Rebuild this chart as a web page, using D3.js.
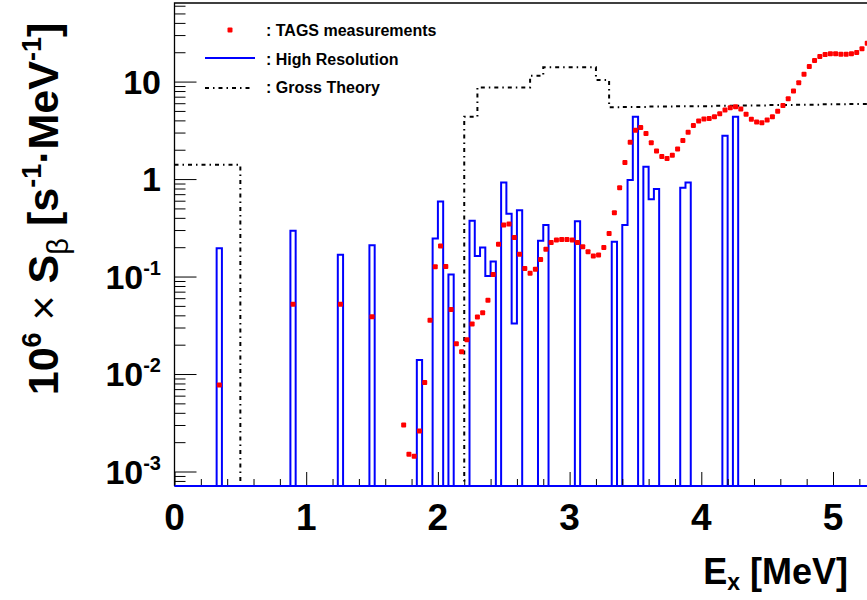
<!DOCTYPE html>
<html>
<head>
<meta charset="utf-8">
<script src="https://cdn.jsdelivr.net/npm/d3@7/dist/d3.min.js"></script>
<style>
  body { margin: 0; background: #fff; }
  svg { display: block; }
  text { font-family: "Liberation Sans", Arial, sans-serif; font-weight: bold; fill: #000; }
</style>
</head>
<body>
<svg></svg>
<script>
// ---- TAGS measurements (bin centres, MeV) ----
const tagsE = [0.34, 0.90, 1.26, 1.50,
  1.74, 1.78, 1.82, 1.86, 1.90, 1.94, 1.98, 2.02, 2.06, 2.10, 2.14, 2.18, 2.22, 2.26, 2.30, 2.34,
  2.38, 2.42, 2.46, 2.50, 2.54, 2.58, 2.62, 2.66, 2.70, 2.74, 2.78, 2.82, 2.86, 2.90, 2.94, 2.98,
  3.02, 3.06, 3.10, 3.14, 3.18, 3.22, 3.26, 3.30, 3.34, 3.38, 3.42, 3.46, 3.50, 3.54, 3.58, 3.62,
  3.66, 3.70, 3.74, 3.78, 3.82, 3.86, 3.90, 3.94, 3.98, 4.02, 4.06, 4.10, 4.14, 4.18, 4.22, 4.26,
  4.30, 4.34, 4.38, 4.42, 4.46, 4.50, 4.54, 4.58, 4.62, 4.66, 4.70, 4.74, 4.78, 4.82, 4.86, 4.90,
  4.94, 4.98, 5.02, 5.06, 5.10, 5.14, 5.18, 5.22, 5.26];
const tagsVal = [0.0077, 0.052, 0.052, 0.0387,
  0.0030, 0.0015, 0.00143, 0.0026, 0.0082, 0.0356, 0.126, 0.206, 0.127, 0.046, 0.0205, 0.0169, 0.0225, 0.0326, 0.0384, 0.0426,
  0.057, 0.105, 0.214, 0.337, 0.345, 0.252, 0.169, 0.121, 0.108, 0.119, 0.150, 0.191, 0.224, 0.237, 0.240, 0.240,
  0.237, 0.224, 0.202, 0.180, 0.162, 0.166, 0.199, 0.277, 0.45, 0.815, 1.48, 2.38, 3.16, 3.39, 2.94, 2.36,
  1.94, 1.70, 1.63, 1.75, 2.03, 2.49, 3.03, 3.55, 3.94, 4.12, 4.19, 4.35, 4.67, 5.10, 5.39, 5.52,
  5.23, 4.61, 4.10, 3.84, 3.78, 4.03, 4.35, 4.95, 5.70, 6.66, 8.0, 9.72, 11.9, 14.3, 16.5, 18.1,
  19.0, 19.3, 19.3, 19.1, 19.1, 19.3, 19.9, 21.7, 24.8];

// ---- High resolution histogram: low edge of each filled 0.04 MeV bin ----
const hrWidth = 0.04;
const hrLow = [0.32, 0.88, 1.24, 1.48, 1.84, 1.96, 2.00, 2.08, 2.24, 2.28, 2.32, 2.36, 2.40,
  2.48, 2.52, 2.56, 2.60, 2.76, 2.80, 3.04, 3.32, 3.40, 3.44, 3.48, 3.56, 3.60, 3.64,
  3.84, 3.88, 4.16, 4.24];
const hrVal = [0.195, 0.295, 0.167, 0.21, 0.0139, 0.246, 0.59, 0.105, 0.374, 0.162, 0.199, 0.101, 0.143,
  0.92, 0.44, 0.033, 0.48, 0.233, 0.337, 0.37, 0.228, 0.337, 0.98, 4.35, 1.34, 0.62, 0.79,
  0.815, 0.92, 2.78, 4.35];

// ---- Gross theory histogram (edges, content; 0 = below axis) ----
const grossEdges = [0, 0.5, 2.2, 2.3, 2.7, 2.8, 3.2, 3.3, 3.4, 3.5, 3.6, 3.7, 3.8, 3.9, 4.0, 4.1, 4.2,
  4.3, 4.4, 4.5, 4.6, 4.7, 4.8, 4.9, 5.0, 5.1, 5.2, 5.3, 5.4];
const grossVal = [1.4, 0, 4.35, 8.7, 11.5, 14.0, 10.4, 5.45, 5.5, 5.5, 5.55, 5.55, 5.6, 5.6, 5.6,
  5.65, 5.65, 5.7, 5.7, 5.75, 5.75, 5.8, 5.8, 5.85, 5.85, 5.9, 5.9, 5.95];

const xTickVals = [0, 1, 2, 3, 4, 5];
const yTickVals = [10, 1, 0.1, 0.01, 0.001];
const yTickExp = ["", "", "-1", "-2", "-3"];
const yTickBase = ["10", "1", "10", "10", "10"];

// ------------------- SVG ----------------------
const svgW = 867, svgH = 600;
const padL = 174.5, padT = 3, padB = 486;
const yMin = 7.1e-4, yMax = 64;

const svg = d3.select("svg")
    .attr("width", svgW)
    .attr("height", svgH);

const xScale = d3.scaleLinear()
    .domain([0, 5.35])
    .range([padL, padL + 131.7 * 5.35]);

const yScale = d3.scaleLog()
    .domain([yMin, yMax])
    .range([padB, padT]);

const yv = v => v <= yMin ? yScale(yMin) : yScale(v);

svg.append("defs").append("clipPath").attr("id", "plot")
    .append("rect")
    .attr("x", padL).attr("y", padT)
    .attr("width", xScale.range()[1] - padL).attr("height", padB - padT);

const plot = svg.append("g").attr("clip-path", "url(#plot)");

// gross theory
const gPts = grossEdges.map((e, i) => [e, i < grossVal.length ? grossVal[i] : grossVal[grossVal.length - 1]]);
const stepLine = d3.line()
    .x(d => xScale(d[0]))
    .y(d => yv(d[1]))
    .curve(d3.curveStepAfter);

plot.append("path")
    .attr("d", stepLine(gPts))
    .attr("fill", "none")
    .attr("stroke", "#000")
    .attr("stroke-width", 2)
    .attr("stroke-dasharray", "4,4,1.5,4");

// high resolution
let hrPts = [[0, 0]];
let curEnd = 0;
hrLow.forEach((lo, i) => {
    if (lo > curEnd + 1e-6) hrPts.push([curEnd, 0]);
    hrPts.push([lo, hrVal[i]]);
    curEnd = lo + hrWidth;
});
hrPts.push([curEnd, 0]);
hrPts.push([5.35, 0]);

plot.append("path")
    .attr("d", stepLine(hrPts))
    .attr("fill", "none")
    .attr("stroke", "#0000ff")
    .attr("stroke-width", 2);

// TAGS markers
plot.selectAll("rect.tags")
    .data(tagsE.map((e, i) => ({e: e, v: tagsVal[i]})))
    .enter()
    .append("rect")
    .attr("class", "tags")
    .attr("x", d => xScale(d.e) - 2.5)
    .attr("y", d => yScale(d.v) - 2.5)
    .attr("width", 5)
    .attr("height", 5)
    .attr("rx", 1)
    .attr("fill", "#ff0000");

// ----- axes (ticks inward) -----
let yMinor = [];
for (let d = -4; d <= 1; d++) {
    for (let m = 2; m <= 9; m++) {
        const v = m * Math.pow(10, d);
        if (v > yMin && v < yMax) yMinor.push(v);
    }
}
svg.append("g")
    .attr("transform", `translate(${padL},0)`)
    .call(d3.axisRight(yScale).tickValues(yMinor).tickSize(11).tickFormat(""))
    .call(g => g.select(".domain").remove());
svg.append("g")
    .attr("transform", `translate(${padL},0)`)
    .call(d3.axisRight(yScale).tickValues(yTickVals).tickSize(22).tickFormat(""))
    .call(g => g.select(".domain").remove());

let xMinor = [];
for (let v = 0.2; v < 5.35; v += 0.2) {
    if (Math.abs(v - Math.round(v)) > 1e-6) xMinor.push(v);
}
svg.append("g")
    .attr("transform", `translate(0,${padB})`)
    .call(d3.axisTop(xScale).tickValues(xMinor).tickSize(7).tickFormat(""))
    .call(g => g.select(".domain").remove());
svg.append("g")
    .attr("transform", `translate(0,${padB})`)
    .call(d3.axisTop(xScale).tickValues(xTickVals).tickSize(14).tickFormat(""))
    .call(g => g.select(".domain").remove());

// frame
svg.append("path")
    .attr("d", `M${padL},${padB}V${padT}H${svgW + 5}M${padL},${padB}H${svgW + 5}`)
    .attr("fill", "none")
    .attr("stroke", "#000")
    .attr("stroke-width", 1.3);

// redraw blue baseline on top of axis line
svg.append("line")
    .attr("x1", padL).attr("x2", svgW)
    .attr("y1", padB).attr("y2", padB)
    .attr("stroke", "#0000ff").attr("stroke-width", 2);

// ----- tick labels -----
svg.append("g").selectAll("text")
    .data(xTickVals)
    .enter()
    .append("text")
    .attr("x", d => xScale(d))
    .attr("y", 530)
    .attr("text-anchor", "middle")
    .attr("font-size", 37)
    .text(d => d);

const yLab = svg.append("g").selectAll("text")
    .data(yTickVals)
    .enter()
    .append("text")
    .attr("x", 161)
    .attr("y", d => yScale(d) + 12)
    .attr("text-anchor", "end")
    .attr("font-size", 34);
yLab.append("tspan").text((d, i) => yTickBase[i]);
yLab.append("tspan")
    .attr("font-size", 20)
    .attr("dy", -14)
    .text((d, i) => yTickExp[i]);

// ----- axis titles -----
const xt = svg.append("text")
    .attr("x", 848)
    .attr("y", 584)
    .attr("text-anchor", "end")
    .attr("font-size", 36);
xt.append("tspan").text("E");
xt.append("tspan").attr("font-size", 23).attr("dy", 6).text("x");
xt.append("tspan").attr("dy", -6).text(" [MeV]");

const yt = svg.append("text")
    .attr("transform", "translate(58,209) rotate(-90)")
    .attr("text-anchor", "middle")
    .attr("font-size", 43);
yt.append("tspan").text("10");
yt.append("tspan").attr("font-size", 27).attr("dy", -17).text("6");
yt.append("tspan").attr("dy", 17).attr("font-weight", "normal").text(" \u00d7 ");
yt.append("tspan").text("S");
yt.append("tspan").attr("font-size", 29).attr("dy", 10).attr("font-weight", "normal").text("\u03b2");
yt.append("tspan").attr("dy", -10).text(" [s");
yt.append("tspan").attr("font-size", 27).attr("dy", -17).text("-1");
yt.append("tspan").attr("dy", 17).text("\u00b7MeV");
yt.append("tspan").attr("font-size", 27).attr("dy", -17).text("-1");
yt.append("tspan").attr("dy", 17).text("]");

// ----- legend -----
const legend = svg.append("g");
legend.append("rect")
    .attr("x", 227.5).attr("y", 27.5).attr("width", 5).attr("height", 5).attr("rx", 1)
    .attr("fill", "#ff0000");
legend.append("line")
    .attr("x1", 205).attr("x2", 255).attr("y1", 58).attr("y2", 58)
    .attr("stroke", "#0000ff").attr("stroke-width", 2);
legend.append("line")
    .attr("x1", 205).attr("x2", 250).attr("y1", 88).attr("y2", 88)
    .attr("stroke", "#000").attr("stroke-width", 2).attr("stroke-dasharray", "4,4,1.5,4");
legend.selectAll("text")
    .data([": TAGS measurements", ": High Resolution", ": Gross Theory"])
    .enter()
    .append("text")
    .attr("x", 266)
    .attr("y", (d, i) => 36 + i * 28.7)
    .attr("font-size", 16)
    .text(d => d);
</script>
</body>
</html>
